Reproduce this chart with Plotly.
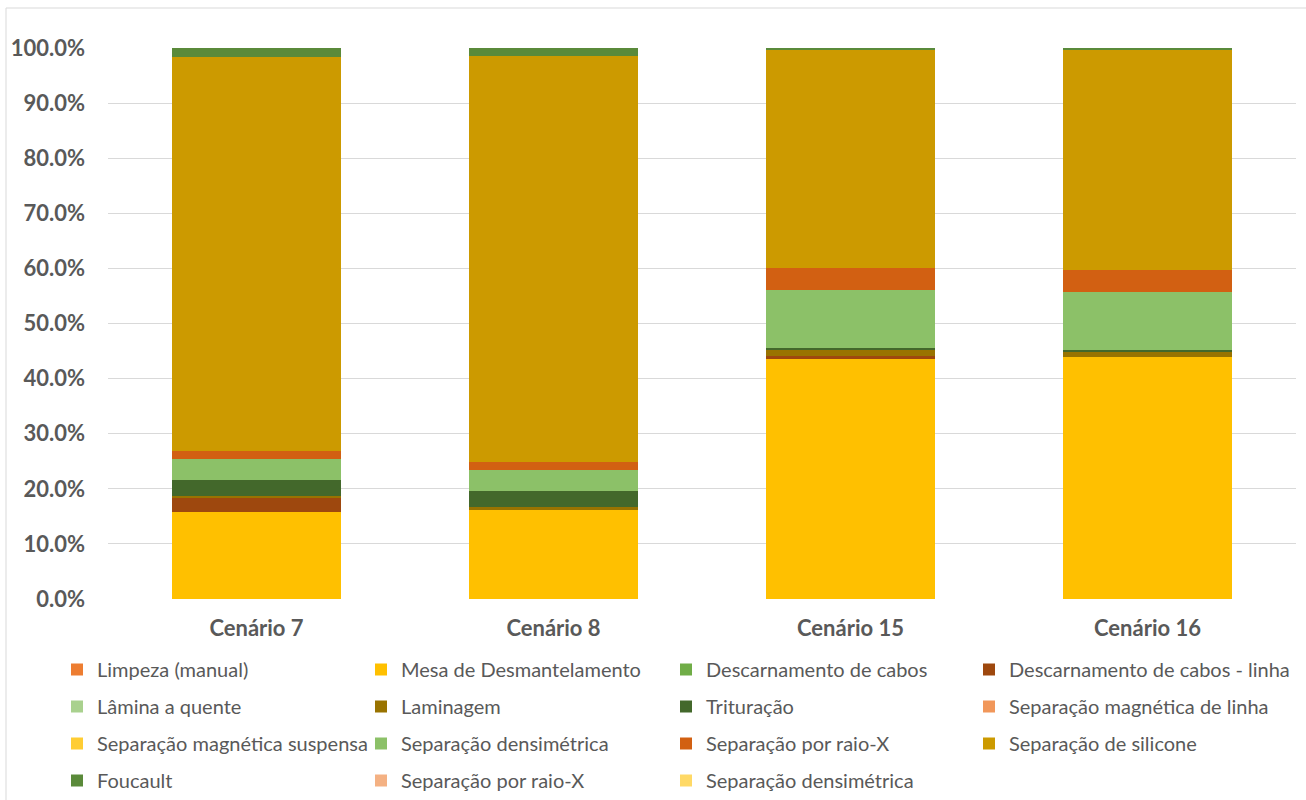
import plotly.graph_objects as go

# Scenarios on the x axis
scenarios = ["Cenário 7", "Cenário 8", "Cenário 15", "Cenário 16"]

# Share of each process step per scenario (percent), in stacking order
limpeza_manual = [0, 0, 0, 0]
mesa_desmantelamento = [15.8, 16.3, 43.5, 43.9]
descarnamento_cabos = [0, 0, 0, 0]
descarnamento_cabos_linha = [2.6, 0, 0.6, 0]
lamina_quente = [0, 0, 0, 0]
laminagem = [0.35, 0.35, 1.2, 1.0]
trituracao = [2.9, 2.95, 0.3, 0.35]
sep_magnetica_linha = [0, 0, 0, 0]
sep_magnetica_suspensa = [0, 0, 0, 0]
sep_densimetrica = [3.8, 3.9, 10.5, 10.5]
sep_raio_x = [1.45, 1.4, 4.0, 4.05]
sep_silicone = [71.5, 73.6, 39.5, 39.8]
foucault = [1.6, 1.5, 0.4, 0.4]
sep_raio_x_2 = [0, 0, 0, 0]
sep_densimetrica_2 = [0, 0, 0, 0]

series = [
    ("Limpeza (manual)", limpeza_manual, "#ED7D31"),
    ("Mesa de Desmantelamento", mesa_desmantelamento, "#FFC000"),
    ("Descarnamento de cabos", descarnamento_cabos, "#70AD47"),
    ("Descarnamento de cabos - linha", descarnamento_cabos_linha, "#9E480E"),
    ("Lâmina a quente", lamina_quente, "#A9D18E"),
    ("Laminagem", laminagem, "#997300"),
    ("Trituração", trituracao, "#43682B"),
    ("Separação magnética de linha", sep_magnetica_linha, "#F1975A"),
    ("Separação magnética suspensa", sep_magnetica_suspensa, "#FFCD33"),
    ("Separação densimétrica", sep_densimetrica, "#8CC168"),
    ("Separação por raio-X", sep_raio_x, "#D26012"),
    ("Separação de silicone", sep_silicone, "#CC9A00"),
    ("Foucault", foucault, "#5A8A3A"),
    ("Separação por raio-X", sep_raio_x_2, "#F4B183"),
    ("Separação densimétrica", sep_densimetrica_2, "#FFD966"),
]

W, H = 1306, 800
ML, MR, MT, MB = 108, 10, 48, 201
PW, PH = W - ML - MR, H - MT - MB


def px_x(px):
    return (px - ML) / PW


def px_y(py):
    return (H - MB - py) / PH


TEXT = "#595959"
FONT = "Lato"

# Legend laid out as four columns, each its own vertical legend
legend_names = ["legend", "legend2", "legend3", "legend4"]
col_x = [57, 361, 666, 969]
legend_top = 650

fig = go.Figure()
for i, (name, vals, color) in enumerate(series):
    fig.add_trace(go.Bar(
        x=scenarios,
        y=[v / 100 for v in vals],
        name=name,
        marker=dict(color=color, line=dict(width=0)),
        legend=legend_names[i % 4],
        legendgroup=f"g{i}",
    ))

legend_layout = {}
for k, ln in enumerate(legend_names):
    legend_layout[ln] = dict(
        orientation="v",
        x=px_x(col_x[k]), xanchor="left",
        y=px_y(legend_top), yanchor="top",
        font=dict(family=FONT, size=20, color=TEXT),
        traceorder="grouped",
        tracegroupgap=8,
        bgcolor="rgba(0,0,0,0)",
        itemclick=False,
    )

fig.update_layout(
    width=W, height=H,
    barmode="stack",
    bargap=0.428,
    margin=dict(l=ML, r=MR, t=MT, b=MB, pad=0, autoexpand=False),
    paper_bgcolor="white",
    plot_bgcolor="white",
    showlegend=True,
    **legend_layout,
    xaxis=dict(
        showline=False, ticks="", showgrid=False, zeroline=False,
        tickfont=dict(family=FONT, size=22, color=TEXT, weight="bold"),
        ticklabelstandoff=14,
    ),
    yaxis=dict(
        range=[0, 1], dtick=0.1, tickformat=".1%",
        showgrid=True, gridcolor="#D9D9D9", gridwidth=1,
        zeroline=False, showline=False, ticks="",
        tickfont=dict(family=FONT, size=22, color=TEXT, weight="bold"),
        ticklabelstandoff=22,
    ),
    shapes=[
        dict(type="line", xref="paper", yref="paper",
             x0=px_x(6), x1=px_x(6), y0=px_y(8), y1=px_y(H + 5),
             line=dict(color="#D9D9D9", width=1)),
        dict(type="line", xref="paper", yref="paper",
             x0=px_x(6), x1=px_x(W + 5), y0=px_y(8), y1=px_y(8),
             line=dict(color="#D9D9D9", width=1)),
    ],
)

fig.write_html("out.html")
